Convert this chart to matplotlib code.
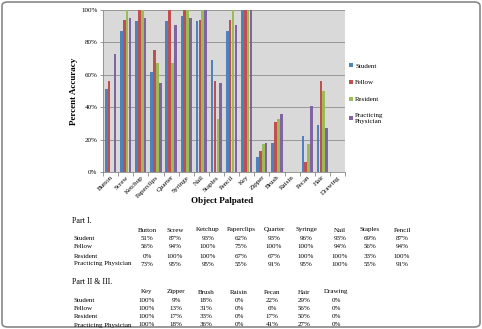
import numpy as np
import matplotlib.pyplot as plt
from matplotlib.patches import FancyBboxPatch

plt.rcParams['font.family'] = ['Liberation Serif', 'DejaVu Serif']

# ---- Data -----------------------------------------------------------------
objects = ['Button', 'Screw', 'Ketchup', 'Paperclips', 'Quarter', 'Syringe', 'Nail',
           'Staples', 'Pencil', 'Key', 'Zipper', 'Brush', 'Raisin', 'Pecan', 'Hair', 'Drawing']
groups = ['Student', 'Fellow', 'Resident', 'Practicing Physician']
student   = [51, 87, 93, 62, 93, 96, 93, 69, 87, 100, 9, 18, 0, 22, 29, 0]
fellow    = [56, 94, 100, 75, 100, 100, 94, 56, 94, 100, 13, 31, 0, 6, 56, 0]
resident  = [0, 100, 100, 67, 67, 100, 100, 33, 100, 100, 17, 33, 0, 17, 50, 0]
physician = [73, 95, 95, 55, 91, 95, 100, 55, 91, 100, 18, 36, 0, 41, 27, 0]
series = [student, fellow, resident, physician]
colors = ['#4F81BD', '#C0504D', '#9BBB59', '#8064A2']

W, H = 482, 329
fig = plt.figure(figsize=(W / 100, H / 100), dpi=100)

def fx(px):
    return px / W

def fy(py):
    return 1 - py / H

# rounded frame
fig.patches.append(FancyBboxPatch((fx(2), fy(327)), fx(478), 1 - 4 / H,
                                  boxstyle='round,pad=0,rounding_size=0.012',
                                  transform=fig.transFigure, fill=False,
                                  edgecolor='#888888', linewidth=1.2))

# ---- Chart ----------------------------------------------------------------
ax = fig.add_axes([fx(103), fy(172), fx(242), (172 - 10) / H])
ax.set_facecolor('#D9D9D9')
x = np.arange(len(objects))
bw = 0.19
for i, (vals, c, name) in enumerate(zip(series, colors, groups)):
    label = 'Practicing\nPhysician' if name == 'Practicing Physician' else name
    ax.bar(x + (i - 1.5) * bw, vals, width=bw * 0.92, color=c, label=label, zorder=3)

ax.set_xlim(-0.5, len(objects) - 0.5)
ax.set_ylim(0, 100)
ax.set_yticks(np.arange(0, 101, 20))
ax.set_yticklabels([f'{v}%' for v in range(0, 101, 20)], fontsize=5)
ax.yaxis.grid(True, color='#8C8C8C', linewidth=0.6, zorder=0)
ax.set_xticks(x)
ax.set_xticklabels(objects, rotation=45, ha='right', rotation_mode='anchor', fontsize=5)
ax.tick_params(axis='x', length=0, pad=2)
ax.set_xticks(np.arange(-0.5, len(objects)), minor=True)
ax.tick_params(axis='x', which='minor', length=3, color='#888888', width=0.6)
ax.tick_params(axis='y', length=2, color='#888888', width=0.6, pad=2)
for s in ['top', 'right']:
    ax.spines[s].set_visible(False)
for s in ['left', 'bottom']:
    ax.spines[s].set_color('#888888')
    ax.spines[s].set_linewidth(0.6)
ax.set_ylabel('Percent Accuracy', fontsize=6.5, fontweight='bold')
ax.yaxis.set_label_coords(-25 / 242, 0.5)
fig.text(fx(222), fy(201), 'Object Palpated', fontsize=6.5, fontweight='bold',
         ha='center', va='center')

ax.legend(loc='upper left', bbox_to_anchor=(1.005, 0.69), frameon=False, fontsize=5,
          handlelength=0.6, handleheight=0.6, handletextpad=0.3, labelspacing=1.6,
          borderaxespad=0)

# ---- Tables ---------------------------------------------------------------
fs = 5
row_x = 74
part1_cols = [147, 175, 208, 241, 274, 306, 340, 370, 402]
part2_cols = [147, 176, 206, 239, 272, 304, 336]

def draw_table(title, title_y, header_y, row_ys, names, cols):
    fig.text(fx(72), fy(title_y), title, fontsize=5.8, ha='left', va='center')
    idx = [objects.index(n) for n in names]
    for n, cx in zip(names, cols):
        fig.text(fx(cx), fy(header_y), n, fontsize=fs, ha='center', va='center')
    for g, vals, ry in zip(groups, series, row_ys):
        fig.text(fx(row_x), fy(ry), g, fontsize=fs, ha='left', va='center')
        for k, cx in zip(idx, cols):
            fig.text(fx(cx), fy(ry), f'{vals[k]}%', fontsize=fs, ha='center', va='center')

draw_table('Part I.', 221, 230, [239, 247, 256, 264], objects[:9], part1_cols)
draw_table('Part II & III.', 282, 292, [300, 308, 316, 325], objects[9:], part2_cols)

fig.savefig('out.png', dpi=100)
